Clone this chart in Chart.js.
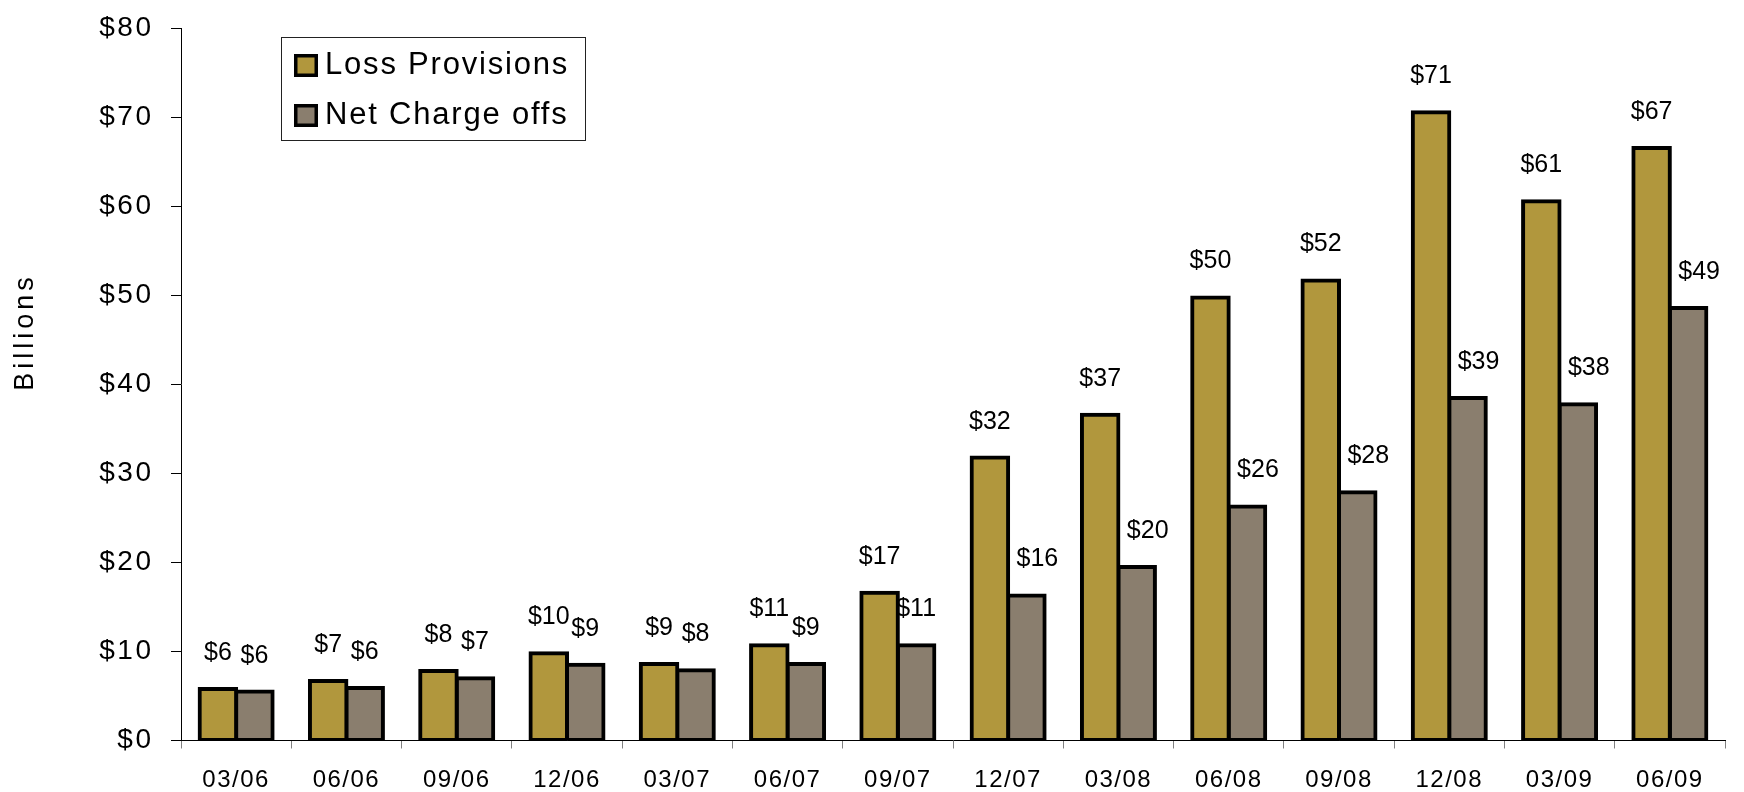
<!DOCTYPE html>
<html>
<head>
<meta charset="utf-8">
<title>Loss Provisions vs Net Charge offs</title>
<script src="https://cdn.jsdelivr.net/npm/chart.js@4.4.1/dist/chart.umd.min.js"></script>
<style>
  html, body { margin: 0; padding: 0; background: #fff; }
  #wrap { width: 1744px; height: 792px; position: relative; }
</style>
</head>
<body>
<div id="wrap"><canvas id="barChart"></canvas></div>
<script>
// ----------------- Data -----------------
const quarters = ['03/06', '06/06', '09/06', '12/06', '03/07', '06/07', '09/07',
                  '12/07', '03/08', '06/08', '09/08', '12/08', '03/09', '06/09'];
const lossProvisions = [5.8, 6.7, 7.8, 9.8, 8.6, 10.7, 16.6, 31.8, 36.6, 49.8, 51.7, 70.6, 60.6, 66.6];
const netChargeOffs = [5.5, 5.9, 7.0, 8.5, 7.9, 8.6, 10.7, 16.3, 19.5, 26.3, 27.9, 38.5, 37.8, 48.6];
const yTicks = [0, 10, 20, 30, 40, 50, 60, 70, 80];

const GOLD = '#B1973D';
const TAUPE = '#8A7E6E';
const FONT = "'Liberation Sans', Arial, sans-serif";

// ----------------- Plugins -----------------
// spaced-out lettering on the axis labels
const axisSpacing = { x: '1.5px', y: '2.5px' };
const spacing = {
    id: 'spacing',
    afterLayout(chart) {
        Object.keys(axisSpacing).forEach(id => {
            const scale = chart.scales[id];
            if (!scale || scale._spaced) return;
            const draw = scale.drawLabels.bind(scale);
            scale.drawLabels = function (area) {
                const c = this.ctx;
                c.save();
                c.letterSpacing = axisSpacing[id];
                draw(area);
                c.restore();
            };
            scale._spaced = true;
        });
    }
};

// $ labels above every bar
const barLabels = {
    id: 'barLabels',
    afterDatasetsDraw(chart) {
        const ctx = chart.ctx;
        ctx.save();
        ctx.font = '25px ' + FONT;
        ctx.fillStyle = '#000';
        ctx.textAlign = 'center';
        ctx.textBaseline = 'alphabetic';
        chart.data.datasets.forEach((ds, i) => {
            chart.getDatasetMeta(i).data.forEach((bar, j) => {
                const v = ds.data[j];
                // the taller grey bars carry their label slightly to the right
                const dx = (i === 1 && v >= 15) ? 11 : 0;
                ctx.fillText('$' + Math.round(v), bar.x + dx, bar.y - 29);
            });
        });
        ctx.restore();
    }
};

// boxed legend in the upper left and the rotated "Billions" title
const extras = {
    id: 'extras',
    afterDraw(chart) {
        const ctx = chart.ctx;
        ctx.save();
        ctx.strokeStyle = '#222';
        ctx.lineWidth = 1;
        ctx.fillStyle = '#fff';
        ctx.fillRect(281.5, 37.5, 304, 103);
        ctx.strokeRect(281.5, 37.5, 304, 103);

        ctx.font = '31px ' + FONT;
        ctx.letterSpacing = '1.8px';
        ctx.textBaseline = 'alphabetic';
        chart.data.datasets.forEach((ds, i) => {
            const y = 54 + i * 50;
            ctx.fillStyle = '#000';
            ctx.fillRect(294, y, 24, 23);
            ctx.fillStyle = ds.backgroundColor;
            ctx.fillRect(297.5, y + 3.5, 17, 16);
            ctx.fillStyle = '#000';
            ctx.fillText(ds.label, 325, y + 20);
        });

        ctx.translate(33, 332);
        ctx.rotate(-Math.PI / 2);
        ctx.font = '27px ' + FONT;
        ctx.letterSpacing = '4px';
        ctx.textAlign = 'center';
        ctx.fillText('Billions', 0, 0);
        ctx.restore();
    }
};

// ----------------- Bar Chart -----------------
const ctx = document.getElementById('barChart').getContext('2d');
new Chart(ctx, {
    type: 'bar',
    data: {
        labels: quarters,
        datasets: [{
            label: 'Loss Provisions',
            data: lossProvisions,
            backgroundColor: GOLD,
            borderColor: '#000',
            borderWidth: 4,
            borderSkipped: false,
            inflateAmount: 2
        }, {
            label: 'Net Charge offs',
            data: netChargeOffs,
            backgroundColor: TAUPE,
            borderColor: '#000',
            borderWidth: 4,
            borderSkipped: false,
            inflateAmount: 2
        }]
    },
    options: {
        responsive: true,
        maintainAspectRatio: false,
        animation: false,
        datasets: {
            bar: { categoryPercentage: 0.662, barPercentage: 1 }
        },
        layout: { padding: { left: 0, top: 26, right: 19, bottom: 0 } },
        plugins: {
            legend: { display: false },
            tooltip: { enabled: false }
        },
        scales: {
            x: {
                grid: {
                    offset: true,
                    drawOnChartArea: false,
                    drawTicks: true,
                    tickLength: 8,
                    color: '#808080'
                },
                border: { display: true, color: '#000', width: 1 },
                ticks: {
                    color: '#000',
                    font: { family: FONT, size: 24 },
                    padding: 17,
                    maxRotation: 0
                },
                afterFit(scale) { scale.height = 51.5; }
            },
            y: {
                min: 0,
                max: 80,
                afterBuildTicks(scale) {
                    scale.ticks = yTicks.map(v => ({ value: v }));
                },
                grid: {
                    drawOnChartArea: false,
                    drawTicks: true,
                    tickLength: 10,
                    color: '#000'
                },
                border: { display: true, color: '#000', width: 1 },
                ticks: {
                    color: '#000',
                    font: { family: FONT, size: 28, lineHeight: 0.8 },
                    padding: 17.5,
                    callback: v => '$' + v
                },
                afterFit(scale) { scale.width = 181; }
            }
        }
    },
    plugins: [spacing, barLabels, extras]
});
</script>
</body>
</html>
